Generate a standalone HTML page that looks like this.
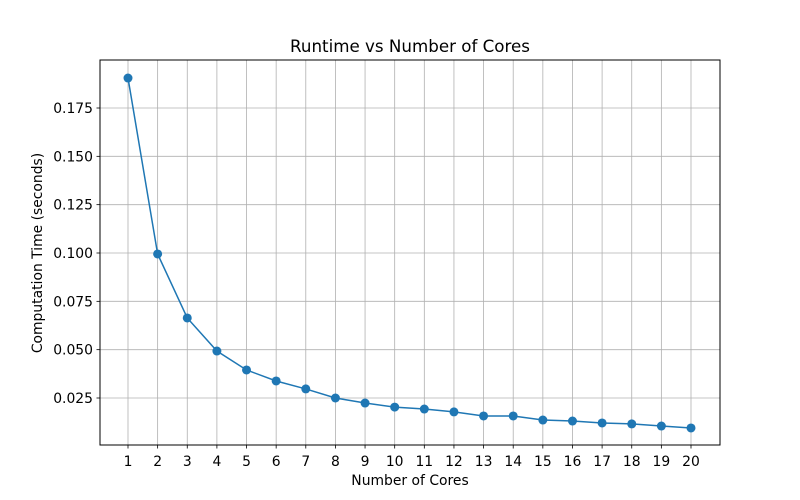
<!DOCTYPE html>
<html><head><meta charset="utf-8"><style>
body{margin:0;background:#fff;}
svg{display:block;font-family:"DejaVu Sans","Liberation Sans",sans-serif;}
</style></head><body>
<svg id="chart" width="800" height="500">
<rect x="0" y="0" width="800" height="500" fill="#fff"/>
<g id="grid"></g>
<g id="axes"></g>
<g id="series"></g>
<rect x="100" y="60" width="620" height="385" fill="none" stroke="#000" stroke-width="1"/>
<text x="410" y="52" text-anchor="middle" font-size="16.7">Runtime vs Number of Cores</text>
<text x="410" y="485" text-anchor="middle" font-size="13.9">Number of Cores</text>
<text x="42" y="253" text-anchor="middle" font-size="13.9" transform="rotate(-90 42 253)">Computation Time (seconds)</text>
</svg>
<script>
const cores = [1,2,3,4,5,6,7,8,9,10,11,12,13,14,15,16,17,18,19,20];
const times = [0.1905,0.0995,0.0664,0.0493,0.0395,0.0338,0.0297,0.0250,0.0224,0.0203,0.0193,0.0178,0.0157,0.0157,0.0136,0.0131,0.0121,0.0116,0.0105,0.0095];
const yTicks = [0.025,0.050,0.075,0.100,0.125,0.150,0.175];
const yTickLabels = ["0.025","0.050","0.075","0.100","0.125","0.150","0.175"];

const NS="http://www.w3.org/2000/svg";
const xs = v => 128 + (v-1)*(691-128)/19;
const ys = v => 398 - (v-0.025)/0.025*48.333;
function mk(tag, attrs, parent){const e=document.createElementNS(NS,tag);for(const k in attrs)e.setAttribute(k,attrs[k]);parent.appendChild(e);return e;}
const grid=document.getElementById('grid'), axes=document.getElementById('axes'), series=document.getElementById('series');

cores.forEach(c=>{
  const x=xs(c);
  const g=mk('line',{x1:x,x2:x,y1:60,y2:445,stroke:'#b0b0b0','stroke-width':0.8},grid);
  
  
  const t=mk('line',{x1:x,x2:x,y1:445,y2:448.5,stroke:'#000','stroke-width':0.8},axes);
  
  
  const l=mk('text',{x:x,y:466,'text-anchor':'middle','font-size':13.9},axes);
  l.textContent=c;
  
  
});
yTicks.forEach((v,i)=>{
  const y=ys(v);
  const g=mk('line',{x1:100,x2:720,y1:y,y2:y,stroke:'#b0b0b0','stroke-width':0.8},grid);
  
  
  const t=mk('line',{x1:96.5,x2:100,y1:y,y2:y,stroke:'#000','stroke-width':0.8},axes);
  
  
  const l=mk('text',{x:93,y:y+5,'text-anchor':'end','font-size':13.9},axes);
  l.textContent=yTickLabels[i];
  
  
});
const pts=cores.map((c,i)=>xs(c)+','+ys(times[i])).join(' ');
const line=mk('polyline',{points:pts,fill:'none',stroke:'#1f77b4','stroke-width':1.5},series);


cores.forEach((c,i)=>{
  const p=mk('circle',{cx:xs(c),cy:ys(times[i]),r:4.5,fill:'#1f77b4'},series);
  
  
});
</script>
</body></html>
